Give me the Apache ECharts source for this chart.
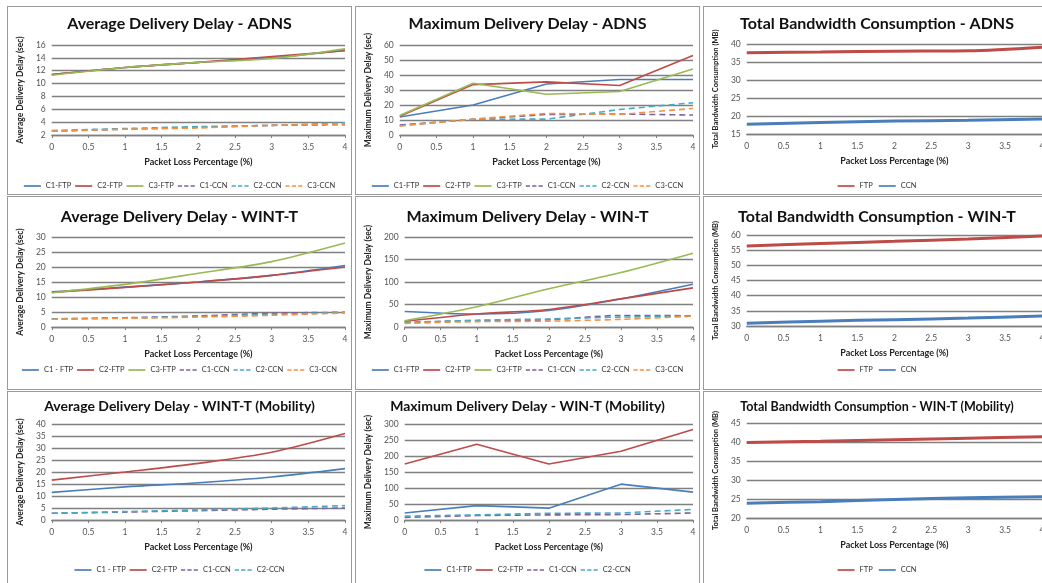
<!DOCTYPE html>
<html><head><meta charset="utf-8">
<script src="https://cdn.jsdelivr.net/npm/echarts@6/dist/echarts.min.js"></script>
<style>
html,body{margin:0;padding:0;width:1042px;height:583px;overflow:hidden;background:#fff;}
.p{position:absolute;box-sizing:border-box;border:1px solid #9a9a9a;background:#fff;}
</style></head><body>
<div id="p1" class="p" style="left:7px;top:6px;width:345px;height:189px"></div>
<div id="p2" class="p" style="left:355px;top:6px;width:345px;height:189px"></div>
<div id="p3" class="p" style="left:703px;top:6px;width:348px;height:189px"></div>
<div id="p4" class="p" style="left:7px;top:196px;width:345px;height:194px"></div>
<div id="p5" class="p" style="left:355px;top:196px;width:345px;height:194px"></div>
<div id="p6" class="p" style="left:703px;top:196px;width:348px;height:194px"></div>
<div id="p7" class="p" style="left:7px;top:391px;width:345px;height:196px"></div>
<div id="p8" class="p" style="left:355px;top:391px;width:345px;height:196px"></div>
<div id="p9" class="p" style="left:703px;top:391px;width:348px;height:196px"></div>
<script>
// ---- data ----
const xValues = [0, 1, 2, 3, 4];

// Average Delivery Delay - ADNS
const avgAdnsC1Ftp = [11.4, 12.5, 13.3, 14.0, 15.2];
const avgAdnsC2Ftp = [11.4, 12.5, 13.3, 14.2, 15.1];
const avgAdnsC3Ftp = [11.3, 12.5, 13.3, 13.9, 15.4];
const avgAdnsC1Ccn = [2.6, 2.9, 3.2, 3.5, 3.6];
const avgAdnsC2Ccn = [2.7, 3.0, 3.3, 3.5, 3.9];
const avgAdnsC3Ccn = [2.6, 2.9, 3.1, 3.5, 3.7];

// Maximum Delivery Delay - ADNS
const maxAdnsC1Ftp = [12, 20, 34, 37, 37];
const maxAdnsC2Ftp = [12.5, 33.6, 35.4, 33, 53];
const maxAdnsC3Ftp = [13, 34.5, 27.2, 29, 44];
const maxAdnsC1Ccn = [6.6, 10.4, 13.7, 14, 13.3];
const maxAdnsC2Ccn = [6.2, 10.5, 10.6, 17, 21.5];
const maxAdnsC3Ccn = [6, 10.6, 14.4, 13.7, 17.7];

// Total Bandwidth Consumption - ADNS
const bwAdnsFtp = [37.6, 37.8, 38.0, 38.1, 39.1];
const bwAdnsCcn = [17.7, 18.2, 18.6, 18.8, 19.2];

// Average Delivery Delay - WINT-T
const avgWintC1Ftp = [11.7, 13.3, 15.0, 17.2, 20.5];
const avgWintC2Ftp = [11.5, 13.2, 15.0, 17.2, 20.0];
const avgWintC3Ftp = [11.4, 14.2, 17.9, 21.8, 28.0];
const avgWintC1Ccn = [2.7, 3.1, 3.7, 4.6, 4.9];
const avgWintC2Ccn = [2.7, 3.0, 3.5, 4.2, 4.8];
const avgWintC3Ccn = [2.6, 2.9, 3.3, 3.9, 4.7];

// Maximum Delivery Delay - WIN-T
const maxWintC1Ftp = [34.6, 29, 36.8, 62.5, 95];
const maxWintC2Ftp = [13, 29, 39, 62.5, 87];
const maxWintC3Ftp = [14, 45, 85, 121, 164];
const maxWintC1Ccn = [10, 14, 16, 25.7, 25];
const maxWintC2Ccn = [10, 15, 18, 22, 24];
const maxWintC3Ccn = [8, 12, 13, 17, 24];

// Total Bandwidth Consumption - WIN-T
const bwWintFtp = [56.4, 57.2, 57.9, 58.7, 59.7];
const bwWintCcn = [30.9, 31.6, 32.1, 32.6, 33.3];

// Average Delivery Delay - WINT-T (Mobility)
const avgMobC1Ftp = [11.5, 13.8, 15.5, 17.9, 21.4];
const avgMobC2Ftp = [16.6, 20.0, 23.6, 28.2, 36.0];
const avgMobC1Ccn = [2.8, 3.3, 3.9, 4.5, 5.0];
const avgMobC2Ccn = [2.8, 3.5, 4.2, 5.0, 6.0];

// Maximum Delivery Delay - WIN-T (Mobility)
const maxMobC1Ftp = [22, 45, 37, 112, 87];
const maxMobC2Ftp = [175, 237, 175, 215, 283];
const maxMobC1Ccn = [8, 14, 16, 17, 22];
const maxMobC2Ccn = [12, 16, 21, 22, 33];

// Total Bandwidth Consumption - WIN-T (Mobility)
const bwMobFtp = [39.9, 40.2, 40.6, 41.0, 41.4];
const bwMobCcn = [23.9, 24.3, 24.9, 25.3, 25.6];

// ---- styling ----
const BLUE = '#4A7EBB', RED = '#BE4B48', GREEN = '#98B954', PURPLE = '#7D60A0', TEAL = '#46AAC5', ORANGE = '#F69240';
const FONT = 'Lato, "Open Sans", sans-serif';
const GRIDC = '#808080';
const ICON_SOLID = 'path://M0,0H20V2H0Z';
const ICON_DASH = 'path://M0,0H5V2H0Z M7.5,0H12.5V2H7.5Z M15,0H20V2H15Z';

function pts(arr) { return xValues.map((x, i) => [x, arr[i]]); }

function makePanel(id, c) {
  const chart = echarts.init(document.getElementById(id), null, { renderer: 'canvas' });
  const series = c.series.map(s => ({
    name: s.name, type: 'line', data: pts(s.data), symbol: 'none',
    smooth: c.smooth,
    lineStyle: { color: s.color, width: s.width || 1.6, type: s.dashed ? [6, 4] : 'solid' },
    itemStyle: { color: s.color },
    emphasis: { disabled: true }, animation: false
  }));
  const thick = c.series.some(s => s.width && s.width > 2);
  chart.setOption({
    animation: false,
    textStyle: { fontFamily: FONT },
    title: {
      text: c.title, left: 'center', top: c.titleTop, padding: 0,
      textStyle: { fontFamily: FONT, fontWeight: 'bold', fontSize: c.titleSize, color: '#111' }
    },
    legend: {
      left: 'center', top: c.legendTop, itemWidth: 17, itemHeight: thick ? 3 : 2, itemGap: c.legendGap || 4,
      padding: 0,
      textStyle: { fontFamily: FONT, fontSize: 7.5, color: '#333' },
      data: c.series.map(s => ({ name: s.name, icon: s.dashed ? ICON_DASH : ICON_SOLID, itemStyle: { color: s.color } }))
    },
    grid: { left: c.grid[0], top: c.grid[1], width: c.grid[2], height: c.grid[3] },
    xAxis: {
      type: 'value', min: 0, max: 4, interval: 0.5,
      name: 'Packet Loss Percentage (%)', nameLocation: 'middle', nameGap: 23,
      nameTextStyle: { fontFamily: FONT, fontWeight: 'bold', fontSize: 9, color: '#222' },
      axisLine: { show: true, lineStyle: { color: GRIDC, width: 1.3 } },
      axisTick: { show: c.xTicks !== false, length: 3, lineStyle: { color: GRIDC } },
      axisLabel: { fontSize: 8.5, color: '#555', margin: 8, fontFamily: FONT, showMaxLabel: true, showMinLabel: true },
      splitLine: { show: false }
    },
    yAxis: {
      type: 'value', min: c.yMin, max: c.yMax, interval: c.yInterval,
      name: c.yName, nameLocation: 'middle', nameGap: c.yNameGap,
      nameTextStyle: { fontFamily: FONT, fontWeight: 'bold', fontSize: c.yNameSize || 8.5, color: '#222' },
      axisLine: { show: false }, axisTick: { show: false },
      axisLabel: { fontSize: 8.5, color: '#555', margin: 6, fontFamily: FONT },
      splitLine: { show: true, lineStyle: { color: GRIDC, width: 1.3 } }
    },
    series: series
  });
}

makePanel('p1', {
  title: 'Average Delivery Delay - ADNS', titleSize: 16, titleTop: 9, legendTop: 175,
  grid: [40, 38, 297, 90], yMin: 2, yMax: 16, yInterval: 2, yName: 'Average Delivery Delay (sec)', yNameGap: 19,
  smooth: 0.3,
  series: [
    { name: 'C1-FTP', data: avgAdnsC1Ftp, color: BLUE },
    { name: 'C2-FTP', data: avgAdnsC2Ftp, color: RED },
    { name: 'C3-FTP', data: avgAdnsC3Ftp, color: GREEN },
    { name: 'C1-CCN', data: avgAdnsC1Ccn, color: PURPLE, dashed: true },
    { name: 'C2-CCN', data: avgAdnsC2Ccn, color: TEAL, dashed: true },
    { name: 'C3-CCN', data: avgAdnsC3Ccn, color: ORANGE, dashed: true }
  ]
});
makePanel('p2', {
  title: 'Maximum Delivery Delay - ADNS', titleSize: 16, titleTop: 9, legendTop: 175,
  grid: [41, 38, 296, 90], yMin: 0, yMax: 60, yInterval: 10, yName: 'Maximum Delivery Delay (sec)', yNameGap: 19,
  smooth: false,
  series: [
    { name: 'C1-FTP', data: maxAdnsC1Ftp, color: BLUE },
    { name: 'C2-FTP', data: maxAdnsC2Ftp, color: RED },
    { name: 'C3-FTP', data: maxAdnsC3Ftp, color: GREEN },
    { name: 'C1-CCN', data: maxAdnsC1Ccn, color: PURPLE, dashed: true },
    { name: 'C2-CCN', data: maxAdnsC2Ccn, color: TEAL, dashed: true },
    { name: 'C3-CCN', data: maxAdnsC3Ccn, color: ORANGE, dashed: true }
  ]
});
makePanel('p3', {
  title: 'Total Bandwidth Consumption - ADNS', titleSize: 16, titleTop: 9, legendTop: 175, legendGap: 6,
  grid: [40, 37, 298, 90], yMin: 15, yMax: 40, yInterval: 5, yName: 'Total Bandwidth Consumption (MB)', yNameGap: 20, yNameSize: 7.5,
  smooth: 0.3, xTicks: false,
  series: [
    { name: 'FTP', data: bwAdnsFtp, color: RED, width: 3 },
    { name: 'CCN', data: bwAdnsCcn, color: BLUE, width: 3 }
  ]
});
makePanel('p4', {
  title: 'Average Delivery Delay - WINT-T', titleSize: 16, titleTop: 12, legendTop: 169,
  grid: [40, 40, 297, 90], yMin: 0, yMax: 30, yInterval: 5, yName: 'Average Delivery Delay (sec)', yNameGap: 19,
  smooth: 0.3,
  series: [
    { name: 'C1 - FTP', data: avgWintC1Ftp, color: BLUE },
    { name: 'C2-FTP', data: avgWintC2Ftp, color: RED },
    { name: 'C3-FTP', data: avgWintC3Ftp, color: GREEN },
    { name: 'C1-CCN', data: avgWintC1Ccn, color: PURPLE, dashed: true },
    { name: 'C2-CCN', data: avgWintC2Ccn, color: TEAL, dashed: true },
    { name: 'C3-CCN', data: avgWintC3Ccn, color: ORANGE, dashed: true }
  ]
});
makePanel('p5', {
  title: 'Maximum Delivery Delay - WIN-T', titleSize: 16, titleTop: 12, legendTop: 169,
  grid: [46, 40, 291, 90], yMin: 0, yMax: 200, yInterval: 50, yName: 'Maximum Delivery Delay (sec)', yNameGap: 24,
  smooth: 0.3,
  series: [
    { name: 'C1-FTP', data: maxWintC1Ftp, color: BLUE },
    { name: 'C2-FTP', data: maxWintC2Ftp, color: RED },
    { name: 'C3-FTP', data: maxWintC3Ftp, color: GREEN },
    { name: 'C1-CCN', data: maxWintC1Ccn, color: PURPLE, dashed: true },
    { name: 'C2-CCN', data: maxWintC2Ccn, color: TEAL, dashed: true },
    { name: 'C3-CCN', data: maxWintC3Ccn, color: ORANGE, dashed: true }
  ]
});
makePanel('p6', {
  title: 'Total Bandwidth Consumption - WIN-T', titleSize: 16, titleTop: 12, legendTop: 169, legendGap: 6,
  grid: [40, 38, 298, 91], yMin: 30, yMax: 60, yInterval: 5, yName: 'Total Bandwidth Consumption (MB)', yNameGap: 20, yNameSize: 7.5,
  smooth: 0.3, xTicks: false,
  series: [
    { name: 'FTP', data: bwWintFtp, color: RED, width: 3 },
    { name: 'CCN', data: bwWintCcn, color: BLUE, width: 3 }
  ]
});
makePanel('p7', {
  title: 'Average Delivery Delay - WINT-T (Mobility)', titleSize: 14, titleTop: 7, legendTop: 174,
  grid: [40, 32, 297, 96], yMin: 0, yMax: 40, yInterval: 5, yName: 'Average Delivery Delay (sec)', yNameGap: 19,
  smooth: 0.3,
  series: [
    { name: 'C1 - FTP', data: avgMobC1Ftp, color: BLUE },
    { name: 'C2-FTP', data: avgMobC2Ftp, color: RED },
    { name: 'C1-CCN', data: avgMobC1Ccn, color: PURPLE, dashed: true },
    { name: 'C2-CCN', data: avgMobC2Ccn, color: TEAL, dashed: true }
  ]
});
makePanel('p8', {
  title: 'Maximum Delivery Delay - WIN-T (Mobility)', titleSize: 14, titleTop: 7, legendTop: 174,
  grid: [45, 32, 292, 96], yMin: 0, yMax: 300, yInterval: 50, yName: 'Maximum Delivery Delay (sec)', yNameGap: 24,
  smooth: false,
  series: [
    { name: 'C1-FTP', data: maxMobC1Ftp, color: BLUE },
    { name: 'C2-FTP', data: maxMobC2Ftp, color: RED },
    { name: 'C1-CCN', data: maxMobC1Ccn, color: PURPLE, dashed: true },
    { name: 'C2-CCN', data: maxMobC2Ccn, color: TEAL, dashed: true }
  ]
});
makePanel('p9', {
  title: 'Total Bandwidth Consumption - WIN-T (Mobility)', titleSize: 12.5, titleTop: 8, legendTop: 174, legendGap: 6,
  grid: [40, 31, 298, 95], yMin: 20, yMax: 45, yInterval: 5, yName: 'Total Bandwidth Consumption (MB)', yNameGap: 20, yNameSize: 7.5,
  smooth: 0.3, xTicks: false,
  series: [
    { name: 'FTP', data: bwMobFtp, color: RED, width: 3 },
    { name: 'CCN', data: bwMobCcn, color: BLUE, width: 3 }
  ]
});
</script>
</body></html>
